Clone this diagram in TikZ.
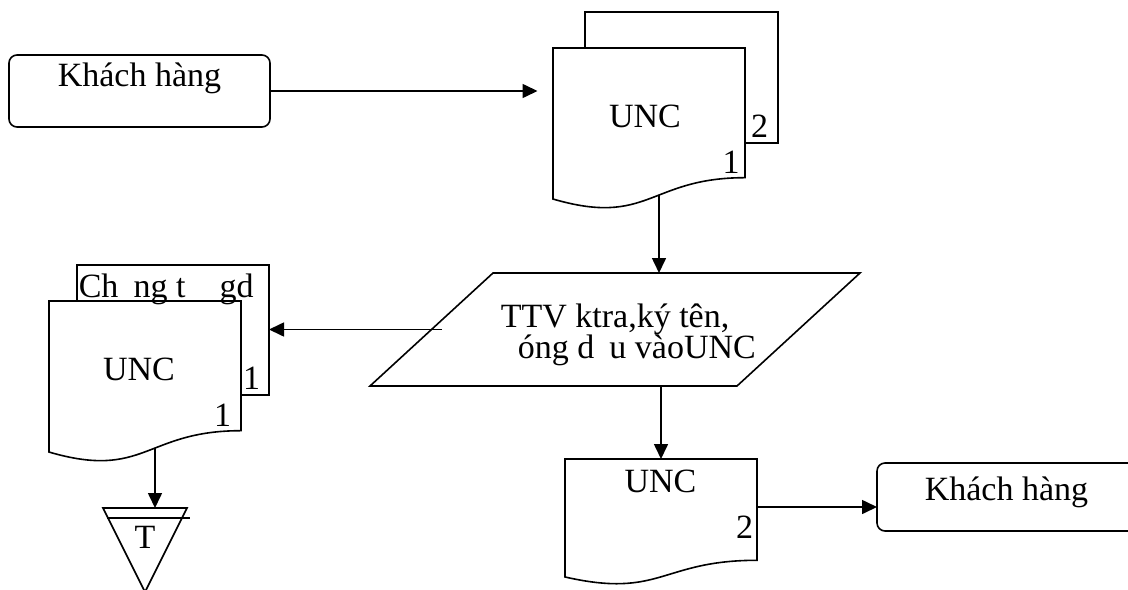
\documentclass[tikz,border=0pt]{standalone}
\usepackage{fontspec}
\setmainfont{Liberation Serif}
\usetikzlibrary{arrows.meta,calc}

\tikzset{
  blk/.style={rectangle, inner sep=0pt, outer sep=0pt},
  khbox/.style={blk, draw, rounded corners=4pt},
  txt/.style={inner sep=0pt, anchor=base, font=\fontsize{17}{15}\selectfont},
  >={Triangle[length=7.5pt,width=7pt]},
}

\newcommand{\docshape}[1]{%
  \draw[fill=white] (#1.north west) -- (#1.north east)
    -- ($(#1.north east)!0.802!(#1.south east)$)
    .. controls ($(#1.north)!0.802!(#1.south)$) and ($(#1.north)!1.1075!(#1.south)$)
    .. ($(#1.north west)!0.934!(#1.south west)$) -- cycle;}

\begin{document}
\begin{tikzpicture}[x=0.5pt, y=-0.5pt, line width=0.8pt]
  \useasboundingbox (0,0) rectangle (1128,589);
  \clip (0,0) rectangle (1128,589);

  % blocks
  \node[khbox, minimum width=130.5pt, minimum height=36pt] (kh1) at (139.5,91) {};
  \node[khbox, minimum width=129.5pt, minimum height=34pt] (kh2) at (1006.5,497) {};
  \node[blk, minimum width=96.5pt, minimum height=65.5pt] (unc1b) at (681.5,77.5) {};
  \node[blk, minimum width=96pt, minimum height=80.85pt] (unc1) at (649,128.85) {};
  \node[blk, minimum width=96pt, minimum height=65pt] (cht) at (173,330) {};
  \node[blk, minimum width=96pt, minimum height=80.85pt] (unc2) at (145,381.85) {};
  \node[blk, minimum width=96pt, minimum height=63.15pt] (unc3) at (661,522.15) {};
  \node[blk, minimum width=245pt, minimum height=56.5pt] (ttv) at (615,329.5) {};
  \node[blk, minimum width=42pt, minimum height=42pt] (tri) at (145,550) {};

  % connectors
  \draw[->, shorten >=7.75pt] (kh1.east) -- (kh1.east -| unc1.west);
  \draw[->] ($(unc1.center)+(10,0)$) -- ($(unc1.center |- ttv.north)+(10,0)$);
  \draw[->] ($(ttv.west)+(72,0)$) -- (ttv.west -| cht.east);
  \draw[->] (unc3.north |- ttv.south) -- (unc3.north);
  \draw[->] ($(unc3.east |- kh2.west)+(0,10)$) -- ($(kh2.west)+(0,10)$);
  \draw[->] ($(unc2.center)+(10,0)$) -- ($(unc2.center |- tri.north)+(10,0)$);

  % shapes
  \draw[fill=white] (unc1b.north west) rectangle (unc1b.south east);
  \docshape{unc1}
  \draw[fill=white] (cht.north west) rectangle (cht.south east);
  \docshape{unc2}
  \docshape{unc3}
  \draw ($(ttv.north west)+(123,0)$) -- (ttv.north east)
    -- ($(ttv.south east)+(-123,0)$) -- (ttv.south west) -- cycle;
  \draw (tri.north west) -- (tri.north east) -- (tri.south) -- cycle;
  \draw ($(tri.north west)+(4,10)$) -- ++(83,0);

  % texts
  \node[txt] (kh1t) at (139.5,86) {Khách hàng};
  \node[txt] (kh2t) at (1006.5,500) {Khách hàng};
  \node[txt] (unc1t) at (645,127) {UNC};
  \node[txt] (unc1n2) at (759.5,137) {2};
  \node[txt] (unc1n1) at (731,173) {1};
  \node[txt, anchor=base west] (chtt) at (78,297) {Ch\hspace{0.45em}ng t\hspace{0.75em} gd};
  \node[txt] (unc2t) at (139,380) {UNC};
  \node[txt] (chtn1) at (251.5,389) {1};
  \node[txt] (unc2n1) at (222.5,426) {1};
  \node[txt, anchor=base west] (ttv1) at (500,327) {TTV ktra,ký tên,};
  \node[txt, anchor=base west] (ttv2) at (500,358) {\hspace{0.5em}óng d\hspace{0.444em}u vàoUNC};
  \node[txt] (unc3t) at (660.5,492) {UNC};
  \node[txt] (unc3n2) at (744.5,538) {2};
  \node[txt] (trit) at (145,548) {T};
\end{tikzpicture}
\end{document}
